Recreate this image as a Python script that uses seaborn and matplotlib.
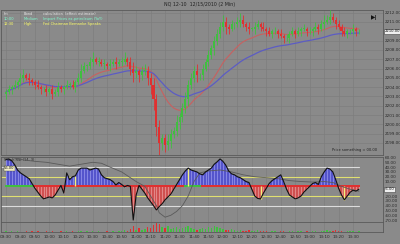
import numpy as np
import pandas as pd
import matplotlib
matplotlib.use("Agg")
import matplotlib.pyplot as plt
import matplotlib.transforms as mtransforms
import seaborn as sns

# ---------------- data ----------------
first_open = 2203.25
closes = [
    2203.50, 2203.75, 2204.00, 2204.25, 2204.50, 2205.00, 2205.25, 2205.00, 2204.75, 2204.50,
    2204.25, 2204.00, 2203.75, 2203.75, 2203.50, 2203.75, 2203.25, 2203.50, 2204.00, 2203.75,
    2204.00, 2204.25, 2204.25, 2204.00, 2204.50, 2205.00, 2205.75, 2206.25, 2206.25, 2206.75,
    2207.00, 2206.75, 2206.75, 2206.50, 2206.50, 2206.25, 2206.50, 2206.75, 2206.50, 2206.75,
    2206.75, 2207.00, 2206.75, 2206.00, 2205.50, 2205.75, 2205.25, 2205.75, 2205.75, 2205.00,
    2204.25, 2202.75, 2199.75, 2198.00, 2198.50, 2197.75, 2198.25, 2199.00, 2199.25, 2200.25,
    2200.75, 2201.75, 2202.75, 2204.25, 2205.00, 2205.75, 2205.25, 2205.25, 2206.00, 2206.75,
    2207.50, 2208.25, 2209.00, 2209.75, 2210.50, 2211.00, 2210.50, 2210.25, 2210.75, 2210.75,
    2211.00, 2211.25, 2210.75, 2210.50, 2210.25, 2210.25, 2210.50, 2210.75, 2210.50, 2210.25,
    2210.00, 2209.75, 2210.00, 2210.00, 2209.75, 2209.50, 2209.25, 2209.25, 2209.75, 2210.00,
    2209.75, 2210.00, 2210.25, 2210.25, 2210.00, 2210.00, 2210.25, 2210.50, 2210.25, 2210.75,
    2211.00, 2211.25, 2211.50, 2211.25, 2210.75, 2210.50, 2210.00, 2209.75, 2210.00, 2210.00,
    2210.25, 2210.00, 2210.00,
]
wick_up = [
    0.25, 0.50, 0.25, 0.50, 0.25, 0.50, 0.75, 0.25, 0.50, 0.25,
    0.25, 0.50, 0.25, 0.25, 0.50, 0.25, 0.50, 0.25, 0.50, 0.25,
    0.25, 0.50, 0.25, 0.50, 0.25, 0.50, 0.75, 0.50, 0.25, 0.50,
    0.75, 0.25, 0.50, 0.25, 0.50, 0.25, 0.50, 0.25, 0.50, 0.25,
    0.50, 0.75, 0.25, 0.50, 0.75, 0.50, 0.25, 0.50, 0.75, 0.50,
    0.50, 0.75, 0.50, 0.75, 0.50, 0.50, 0.75, 0.50, 0.50, 0.75,
    0.50, 0.50, 0.75, 0.50, 0.50, 0.50, 0.75, 0.25, 0.50, 0.25,
    0.50, 0.25, 0.50, 0.50, 0.50, 0.75, 0.50, 0.25, 0.50, 0.25,
    0.50, 0.75, 0.50, 0.25, 0.50, 0.25, 0.50, 0.50, 0.25, 0.50,
    0.25, 0.50, 0.25, 0.50, 0.25, 0.50, 0.25, 0.50, 0.25, 0.50,
    0.25, 0.50, 0.25, 0.50, 0.25, 0.50, 0.25, 0.50, 0.25, 0.50,
    0.75, 0.50, 0.75, 0.50, 0.25, 0.50, 0.25, 0.50, 0.25, 0.25,
    0.50, 0.25, 0.25,
]
wick_dn = [
    0.50, 0.25, 0.50, 0.25, 0.50, 0.25, 0.50, 0.25, 0.50, 0.25,
    0.50, 0.25, 0.50, 0.25, 0.50, 0.25, 0.50, 0.25, 0.50, 0.25,
    0.50, 0.25, 0.50, 0.25, 0.50, 0.25, 0.50, 0.25, 0.50, 0.25,
    0.50, 0.25, 0.50, 0.25, 0.50, 0.25, 0.50, 0.25, 0.50, 0.25,
    0.50, 0.25, 0.50, 0.75, 1.00, 0.50, 0.75, 0.50, 0.50, 0.75,
    1.00, 1.25, 1.00, 1.50, 0.75, 0.75, 0.50, 0.75, 0.50, 0.50,
    0.75, 0.50, 0.50, 0.75, 0.50, 0.50, 0.75, 0.50, 0.50, 0.25,
    0.50, 0.50, 0.75, 0.50, 0.50, 0.50, 0.75, 0.50, 0.25, 0.50,
    0.25, 0.50, 0.25, 0.50, 0.50, 0.25, 0.50, 0.25, 0.50, 0.25,
    0.50, 0.25, 0.50, 0.25, 0.50, 0.25, 0.50, 0.25, 0.50, 0.25,
    0.50, 0.25, 0.50, 0.25, 0.50, 0.25, 0.50, 0.25, 0.50, 0.25,
    0.50, 0.25, 0.50, 0.25, 0.50, 0.25, 0.50, 0.25, 0.50, 0.25,
    0.25, 0.50, 0.25,
]
oscillator = [
    56, 57, 53, 45, 34, 28, 24, 20, 16, 6,
    -4, -12, -20, -26, -24, -22, -24, -18, -8, 2,
    -14, 28, 14, 20, 22, 34, 38, 38, 38, 34,
    36, 38, 36, 24, 18, 16, 14, 10, 3, 8,
    4, -1, 2, 0, -70, -18, 2, -6, -14, -24,
    -32, -40, -49, -42, -36, -28, -22, -16, -6, 4,
    14, 24, 32, 38, 34, 32, 30, 26, 24, 30,
    34, 38, 46, 51, 57, 52, 44, 32, 26, 24,
    20, 18, 14, 10, 8, -6, -20, -25, -26, -14,
    -4, 6, 12, 16, 20, 24, 10, -6, -18, -22,
    -26, -24, -20, -12, -6, 0, 6, 8, 4, 20,
    30, 38, 36, 30, 14, -4, -18, -28, -20, -12,
    -8, -10, -6,
]
signal_bars = [0, 2, 6, 10, 14, 18, 22, 26, 30, 33, 36, 40, 42, 45, 48, 50, 52, 53, 55,
               57, 59, 61, 63, 65, 67, 70, 74, 78, 82, 86, 90, 94, 98, 102, 106, 110,
               113, 116, 119, 122]
signal_vals = [62, 60, 55, 52, 50, 46, 42, 46, 50, 48, 40, 30, 22, 10, 0, -20, -40, -55, -64,
               -60, -52, -40, -20, 10, 28, 32, 34, 30, 24, 20, 18, 16, 12, 10, 9, 10,
               8, 0, -6, -10]
trend_state = [1] * 10 + [-1] * 52 + [1] * 6 + [-1] * 55
highlight_bars = [24, 63, 88, 117]
volume = [
    1, 0, 1, 0, 1, 0, 0, 1, 0, 1,
    0, 1, 0, 0, 1, 0, 1, 0, 0, 1,
    0, 1, 0, 1, 0, 1, 1, 0, 1, 0,
    1, 0, 1, 0, 0, 1, 0, 1, 0, 1,
    1, 2, 1, 3, 6, 2, 4, 2, 3, 5,
    4, 7, 9, 8, 5, 4, 6, 3, 4, 5,
    3, 4, 5, 6, 4, 3, 2, 3, 4, 3,
    5, 4, 6, 5, 4, 3, 2, 2, 3, 2,
    1, 2, 1, 1, 2, 1, 1, 2, 1, 1,
    1, 0, 1, 1, 0, 1, 1, 0, 1, 1,
    0, 1, 1, 0, 1, 0, 1, 1, 0, 1,
    1, 2, 1, 1, 2, 1, 1, 0, 1, 1,
    1, 0, 1,
]
price_ticks = [2198, 2199, 2200, 2201, 2202, 2203, 2204, 2205, 2206, 2207, 2208, 2209, 2211, 2212]
osc_ticks = [60, 50, 40, 30, 20, 10, -20, -30, -40, -50, -60, -70]
time_labels = ["09:30", "09:40", "09:50", "10:00", "10:10", "10:20", "10:30", "10:40", "10:50",
               "11:00", "11:10", "11:20", "11:30", "11:40", "11:50", "12:00", "12:10", "12:20",
               "12:30", "12:40", "12:50", "13:00", "13:10", "13:20", "13:30"]
legend_rows = [
    ("Int", "Bond", "calculation  (effect estimate)"),
    ("10:00", "Medium", "Import Prices ex-petroleum (YoY)"),
    ("12:30", "High", "Fed Chairman Bernanke Speaks"),
]
title = "NQ 12-10  12/15/2010 (2 Min)"

# ---------------- style ----------------
BG = "#8a8a8a"
GRID = "#7e7e7e"
UP = "#3fbf3f"
DN = "#e03030"
sns.set_theme(style="dark", rc={"axes.facecolor": BG, "figure.facecolor": BG})
plt.rcParams["font.family"] = ["DejaVu Sans"]

n = len(closes)
idx = np.arange(n)
df = pd.DataFrame({"bar": idx, "close": closes, "osc": oscillator})
df["open"] = [first_open] + closes[:-1]
df["high"] = np.maximum(df["open"], df["close"]) + np.array(wick_up)
df["low"] = np.minimum(df["open"], df["close"]) - np.array(wick_dn)
df["ema_fast"] = df["close"].ewm(span=18).mean()
df["ema_slow"] = df["close"].ewm(span=40).mean()

fig = plt.figure(figsize=(4, 2.44), dpi=100, facecolor=BG)
W, H = 400.0, 244.0
def rect(x0, y0, x1, y1):
    return [x0 / W, 1 - y1 / H, (x1 - x0) / W, (y1 - y0) / H]

ax = fig.add_axes(rect(1, 10, 383, 155))
axo = fig.add_axes(rect(1, 157, 383, 222))
axv = fig.add_axes(rect(1, 222, 383, 232))

xlim = (-5 / 2.9, (383 - 5) / 2.9)
for a in (ax, axo, axv):
    a.set_facecolor(BG)
    a.set_xlim(*xlim)
    for s in a.spines.values():
        s.set_color("#5a5a5a")
        s.set_linewidth(0.6)
    a.set_xticks(range(0, 121, 5))
    a.tick_params(axis="both", length=0, pad=1, labelsize=3, colors="#2a2a2a")
    a.grid(True, color=GRID, linewidth=0.5)
    a.yaxis.tick_right()

# ---- main price panel ----
ax.set_ylim(2196.7, 2212.29)
ax.set_yticks(price_ticks)
ax.set_yticklabels([f"{p:.2f}" for p in price_ticks])
ax.set_xticklabels([])
up = df["close"] >= df["open"]
cols = np.where(up, UP, DN)
ax.vlines(df["bar"], df["low"], df["high"], colors=cols, linewidth=0.6, zorder=3)
body = (df["close"] - df["open"]).abs().clip(lower=0.08)
ax.bar(df["bar"], body, bottom=np.minimum(df["open"], df["close"]), width=0.7,
       color=cols, linewidth=0, zorder=4)
sns.lineplot(data=df, x="bar", y="ema_fast", ax=ax, color="#c86060", linewidth=0.8, zorder=2)
sns.lineplot(data=df, x="bar", y="ema_slow", ax=ax, color="#5c5cc4", linewidth=0.9, zorder=2)
ax.set_xlabel("")
ax.set_ylabel("")

last = closes[-1]
trans = mtransforms.blended_transform_factory(ax.transAxes, ax.transData)
ax.text(1.004, last, f"{last:.2f}", transform=trans, fontsize=2.7, va="center", ha="left",
        color="#111111", bbox=dict(boxstyle="square,pad=0.1", fc="#f0f0f0", ec="#444444", lw=0.4),
        zorder=6, clip_on=False)
ax.text(0.985, 0.965, "▶|", transform=ax.transAxes, fontsize=4, ha="right", va="top",
        color="#111111", fontweight="bold")
ax.text(0.985, 0.02, "Price something = 00.00", transform=ax.transAxes, fontsize=2.6,
        ha="right", va="bottom", color="#222222")

# legend / calendar text
row_colors = ["#e8e8e8", "#7fffd0", "#ffff66"]
for r, (c1, c2, c3) in enumerate(legend_rows):
    yy = 0.985 - r * 0.035
    ax.text(0.008, yy, c1, transform=ax.transAxes, fontsize=2.6, color=row_colors[r], va="top")
    ax.text(0.06, yy, c2, transform=ax.transAxes, fontsize=2.6, color=row_colors[r], va="top")
    ax.text(0.11, yy, c3, transform=ax.transAxes, fontsize=2.6, color=row_colors[r], va="top")

fig.text(0.5, 1 - 4.5 / H, title, fontsize=3.4, ha="center", va="center", color="#222222")

# ---- oscillator panel ----
axo.set_ylim(-74, 61)
axo.set_yticks(osc_ticks)
axo.set_yticklabels([f"{v:.2f}" for v in osc_ticks])
axo.set_xticklabels([])
axo.grid(False, axis="y")
osc = np.array(oscillator, dtype=float)
axo.fill_between(idx, 0, osc, where=osc >= 0, interpolate=True, color="#5555cc", linewidth=0, zorder=2)
axo.fill_between(idx, 0, osc, where=osc <= 0, interpolate=True, color="#d05050", linewidth=0, zorder=2)
axo.vlines(idx, 0, osc, colors=np.where(osc >= 0, "#9a9aee", "#eaa0a0"), linewidth=0.5, zorder=3)
for b in highlight_bars:
    axo.vlines(b, 0, osc[b], colors="#f0f080", linewidth=1.0, zorder=4)
for lvl, c in [(40, "#dcdcdc"), (20, "#e0e070"), (-20, "#e0e070"), (-40, "#dcdcdc")]:
    axo.axhline(lvl, xmin=0, xmax=(122 - xlim[0]) / (xlim[1] - xlim[0]), color=c, linewidth=0.8, zorder=1)
axo.bar(idx, 4, bottom=-2, width=1.0, color=[UP if s > 0 else DN for s in trend_state],
        linewidth=0, zorder=3)
sig = pd.DataFrame({"bar": signal_bars, "val": signal_vals})
sns.lineplot(data=sig, x="bar", y="val", ax=axo, color="#5a5a5a", linewidth=0.6, zorder=5)
sns.lineplot(data=df, x="bar", y="osc", ax=axo, color="#111111", linewidth=0.8, zorder=6)
axo.set_xlabel("")
axo.set_ylabel("")
axo.text(0.008, 0.985, "Stoch RSI (14, 3)", transform=axo.transAxes, fontsize=2.6,
         color="#222222", va="top")
axo.text(0.008, 0.86, f"{oscillator[0]:.2f}", transform=axo.transAxes, fontsize=2.6,
         color="#111111", va="top",
         bbox=dict(boxstyle="square,pad=0.15", fc="#f4f0c8", ec="#444444", lw=0.3))
transo = mtransforms.blended_transform_factory(axo.transAxes, axo.transData)
axo.text(1.004, oscillator[-1], f"{oscillator[-1]:.2f}", transform=transo, fontsize=2.7,
         va="center", ha="left", color="#111111",
         bbox=dict(boxstyle="square,pad=0.1", fc="#f0f0f0", ec="#444444", lw=0.4), clip_on=False)

# ---- volume strip ----
axv.set_ylim(0, 10)
axv.set_yticks([])
vcols = np.where(up, UP, DN)
axv.bar(idx, volume, width=0.5, color=vcols, linewidth=0)
axv.set_xticklabels(time_labels)
axv.tick_params(axis="x", pad=2, labelsize=3)

fig.savefig("out.png", dpi=100, facecolor=BG)
